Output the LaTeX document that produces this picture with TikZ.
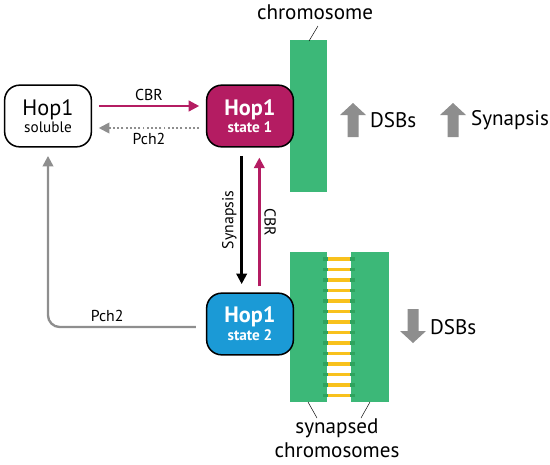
\documentclass[tikz,border=0pt]{standalone}
\usepackage{fontspec}
\setmainfont{PT Sans}
\usetikzlibrary{arrows.meta}
\definecolor{hopred}{HTML}{B41C62}
\definecolor{hopblue}{HTML}{1B9AD6}
\definecolor{chromgreen}{HTML}{3CB878}
\definecolor{rungend}{HTML}{2FA35E}
\definecolor{rungyellow}{HTML}{F8C11C}
\definecolor{arrgray}{HTML}{8E8E8E}

\begin{document}
\begin{tikzpicture}[x=0.03cm, y=-0.03cm, >={Triangle[length=9pt,width=9pt]},
	hop/.style={draw=black, line width=1.3pt, rounded corners=0.45cm, minimum width=2.6cm, minimum height=1.85cm, align=center, inner sep=0pt},
	lbl/.style={font=\fontsize{13.5}{15}\selectfont},
	side/.style={font=\fontsize{18}{20}\selectfont},
	conn/.style={->, line width=2pt}]
	\useasboundingbox (0,0) rectangle (550,464);
	% chromosomes
	\fill[chromgreen] (290,40) rectangle (327,192);
	\fill[chromgreen] (290,252) rectangle (327,402);
	\fill[chromgreen] (351,252) rectangle (389,402);
	\foreach \i in {0,...,13} {
		\draw[rungend, line width=3pt] (323,{259+10.5*\i}) -- (355,{259+10.5*\i});
		\draw[rungyellow, line width=3pt] (328,{259+10.5*\i}) -- (350,{259+10.5*\i});
	}
	\node[side, anchor=base] (chrom) at (315,19) {chromosome};
	\draw[thin] (318,26) -- (309,41);
	\node[side, anchor=base] (syn) at (337,433) {synapsed};
	\node[side, anchor=base] (syns) at (337,457) {chromosomes};
	\draw[thin] (308,402) -- (317,418);
	\draw[thin] (370,402) -- (361,418);
	% Hop1 boxes
	\node[hop, fill=white] (sol) at (48,116) {{\fontsize{19}{21}\selectfont Hop1}\\[1pt]{\fontsize{13}{15}\selectfont soluble}};
	\node[hop, fill=hopred, text=white] (st1) at (250,116) {{\fontsize{19}{21}\selectfont\bfseries Hop1}\\[1pt]{\fontsize{13}{15}\selectfont\bfseries state 1}};
	\node[hop, fill=hopblue, text=white] (st2) at (250,324) {{\fontsize{19}{21}\selectfont\bfseries Hop1}\\[1pt]{\fontsize{13}{15}\selectfont\bfseries state 2}};
	% transitions
	\draw[conn, hopred] ([yshift=0.3cm,xshift=0.2cm]sol.east) -- ([yshift=0.3cm,xshift=-0.2cm]st1.west) node[midway, above, black, lbl] {CBR};
	\draw[conn, arrgray, line width=1.6pt, dotted] ([yshift=-0.36cm,xshift=-0.2cm]st1.west) -- ([yshift=-0.36cm,xshift=0.2cm]sol.east) node[midway, below, black, lbl] {Pch2};
	\draw[conn, black] ([xshift=-0.25cm,yshift=-0.25cm]st1.south) -- ([xshift=-0.25cm,yshift=0.25cm]st2.north) node[midway, rotate=90, anchor=south, lbl] {Synapsis};
	\draw[conn, hopred] ([xshift=0.28cm,yshift=0.18cm]st2.north) -- ([xshift=0.28cm,yshift=-0.3cm]st1.south) node[midway, rotate=-90, anchor=south, black, lbl] {CBR};
	\draw[conn, arrgray, rounded corners=0.35cm] ([yshift=-0.09cm,xshift=-0.3cm]st2.west) -| ([yshift=-0.25cm]sol.south) node[pos=0.3, above, black, lbl] {Pch2};
	% effect arrows
	\foreach \X/\Y/\s in {353/103/1, 453/103/1, 413/343/-1}
		\fill[arrgray] ({\X-5.5},{\Y+34*\s}) -- ({\X-5.5},{\Y+12*\s}) -- ({\X-13},{\Y+12*\s}) -- (\X,\Y) -- ({\X+13},{\Y+12*\s}) -- ({\X+5.5},{\Y+12*\s}) -- ({\X+5.5},{\Y+34*\s}) -- cycle;
	\node[side, anchor=west] (dsb1) at (366,120) {DSBs};
	\node[side, anchor=west] (synup) at (467,120) {Synapsis};
	\node[side, anchor=west] (dsb2) at (426,327) {DSBs};
\end{tikzpicture}
\end{document}
